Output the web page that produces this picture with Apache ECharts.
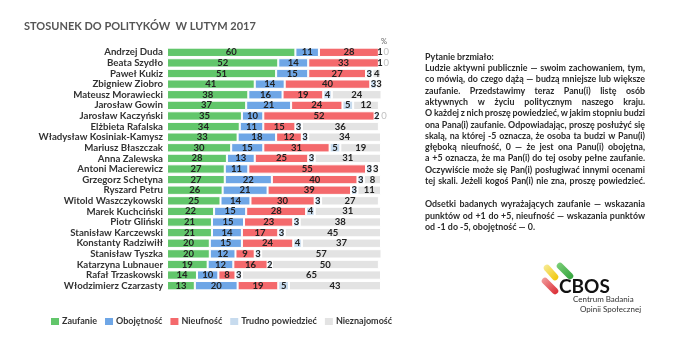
<!DOCTYPE html>
<html><head><meta charset="utf-8">
<script src="https://cdn.jsdelivr.net/npm/echarts@6/dist/echarts.min.js"></script>
<style>html,body{margin:0;padding:0;background:#fff}#c{width:680px;height:340px}</style>
</head><body><div id="c"></div>
<script>
const names = ["Andrzej Duda","Beata Szydło","Paweł Kukiz","Zbigniew Ziobro","Mateusz Morawiecki","Jarosław Gowin","Jarosław Kaczyński","Elżbieta Rafalska","Władysław Kosiniak-Kamysz","Mariusz Błaszczak","Anna Zalewska","Antoni Macierewicz","Grzegorz Schetyna","Ryszard Petru","Witold Waszczykowski","Marek Kuchciński","Piotr Gliński","Stanisław Karczewski","Konstanty Radziwiłł","Stanisław Tyszka","Katarzyna Lubnauer","Rafał Trzaskowski","Włodzimierz Czarzasty"];
const zaufanie      = [60,52,51,41,38,37,35,34,33,30,28,27,27,26,25,22,21,21,20,20,19,14,13];
const obojetnosc    = [11,14,15,14,16,21,10,11,18,15,13,11,22,21,14,15,15,14,15,12,12,10,20];
const nieufnosc     = [28,33,27,40,19,24,52,15,12,31,25,55,40,39,30,28,23,17,24,9,16,8,19];
const trudno        = [1,1,3,3,4,5,2,3,3,5,3,3,3,3,3,4,3,3,4,3,2,3,5];
const nieznajomosc  = [0,0,4,3,24,12,0,36,34,19,31,3,8,11,27,31,38,45,37,57,50,65,43];
const seriesNames = ["Zaufanie","Obojętność","Nieufność","Trudno powiedzieć","Nieznajomość"];
const colors = ["#62c66b","#6ea6e6","#f4696c","#c7dbee","#e3e3e3"];
const titleText = "STOSUNEK DO POLITYKÓW  W LUTYM 2017";
const para1 = ["Ludzie aktywni publicznie — swoim zachowaniem, tym,","co mówią, do czego dążą — budzą mniejsze lub większe","zaufanie. Przedstawimy teraz Panu(i) listę osób","aktywnych w życiu politycznym naszego kraju.","O każdej z nich proszę powiedzieć, w jakim stopniu budzi","ona Pana(i) zaufanie. Odpowiadając, proszę posłużyć się","skalą, na której -5 oznacza, że osoba ta budzi w Panu(i)","głęboką nieufność, 0 — że jest ona Panu(i) obojętna,","a +5 oznacza, że ma Pan(i) do tej osoby pełne zaufanie.","Oczywiście może się Pan(i) posługiwać innymi ocenami","tej skali. Jeżeli kogoś Pan(i) nie zna, proszę powiedzieć."];
const para2 = ["Odsetki badanych wyrażających zaufanie — wskazania","punktów od +1 do +5, nieufność — wskazania punktów","od -1 do -5, obojętność — 0."];

const LATO = "Lato, sans-serif";
const chart = echarts.init(document.getElementById('c'));
const allData = [zaufanie, obojetnosc, nieufnosc, trudno, nieznajomosc];

const series = allData.map((arr, i) => ({
  name: seriesNames[i], type: 'bar', stack: 'a', barCategoryGap: '12%',
  itemStyle: {color: colors[i], borderColor: '#fff', borderWidth: 1},
  label: {show: true, position: 'inside', formatter: '{c}', color: '#222', fontFamily: LATO, fontWeight: 'bold', fontSize: 9.5},
  emphasis: {disabled: true},
  data: arr.map(v => (i === 4 && v === 0) ? {value: v, label: {position: 'right', distance: 2, color: '#c0c0c0', fontWeight: 'normal'}} : v)
}));

const cv = document.createElement('canvas').getContext('2d');
function mw(t, size, w){ cv.font = `${w||'bold'} ${size}px ${LATO}`; return cv.measureText(t).width; }

// Justified text block: uniform size, horizontally condensed, word spacing distributed
const graphics = [];
const TX = 425, TW = 220, FS = 10;
const allLines = para1.concat(para2.slice(0,2));
let sx = 1;
allLines.forEach(l => {
  const words = l.split(' ');
  const nat = words.reduce((s,w)=>s+mw(w,FS),0) + mw(' ',FS)*0.8*(words.length-1);
  sx = Math.min(sx, TW/nat);
});
function addLine(line, y, justify){
  const words = line.split(' ');
  const natural = words.reduce((s,w)=>s+mw(w,FS)*sx,0);
  const sp = justify ? (TW - natural)/(words.length-1) : mw(' ', FS)*sx;
  let x = TX;
  words.forEach(w => {
    graphics.push({type:'text', x: x, y: y, scaleX: sx, style:{text: w, fontSize: FS, fontWeight: 'bold', fontFamily: LATO, fill:'#2a2a2a', textVerticalAlign:'middle', verticalAlign:'middle'}});
    x += mw(w,FS)*sx + sp;
  });
}
const step = 11.3;
addLine("Pytanie brzmiało:", 56.5, false);
para1.forEach((l,i)=> addLine(l, 56.5 + (i+1)*step, true));
para2.forEach((l,i)=> addLine(l, 204 + i*step, i < para2.length-1));

// Logo
function pill(x1,y1,x2,y2,c1,c2){
  graphics.push({type:'line', shape:{x1,y1,x2,y2}, style:{stroke: new echarts.graphic.LinearGradient(0,0,1,1,[{offset:0,color:c1},{offset:1,color:c2}]), lineWidth:6.5, lineCap:'round'}});
}
pill(547,268,555,277,'#f7ec9a','#f0c400');
pill(560,266,570,276,'#7fd07a','#2fa23a');
pill(545,281,555,291,'#f2a0a0','#d9262e');
graphics.push({type:'text', x:559, y:287, style:{text:'CBOS', fontSize:19, fontWeight:'bold', fontFamily:LATO, fill:'#111', textVerticalAlign:'middle', verticalAlign:'middle'}});
graphics.push({type:'text', x:573, y:299, style:{text:'Centrum Badania', fontSize:8, fontFamily:LATO, fill:'#333', textVerticalAlign:'middle', verticalAlign:'middle'}});
graphics.push({type:'text', x:580, y:309, style:{text:'Opinii Społecznej', fontSize:8, fontFamily:LATO, fill:'#333', textVerticalAlign:'middle', verticalAlign:'middle'}});
// % marker
graphics.push({type:'text', x:384, y:42, style:{text:'%', fontSize:7.5, fontFamily:LATO, fill:'#666', textAlign:'center', align:'center', textVerticalAlign:'middle', verticalAlign:'middle'}});

// Legend centred on the reference legend centre
const LFS = 9, LGAP = 6;
const legW = seriesNames.reduce((s,n)=>s + 10 + 2 + mw(n, LFS), 0) + LGAP*(seriesNames.length-1);
const legLeft = Math.round(218 - legW/2);

chart.setOption({
  animation: false,
  title: {text: titleText, left: 19, top: 16, textStyle: {fontFamily: LATO, fontWeight: 'bold', fontSize: 11, color: '#555'}},
  legend: {data: seriesNames, left: legLeft, top: 316, padding: 0, icon: 'rect', itemWidth: 10, itemHeight: 9, itemGap: LGAP, selectedMode: false,
    textStyle: {fontFamily: LATO, fontWeight: 'bold', fontSize: LFS, color: '#333', padding: [0,0,0,-3]}},
  grid: {left: 167, top: 47, width: 214, height: 244, containLabel: false},
  xAxis: {type: 'value', min: 0, max: 100, show: false},
  yAxis: {type: 'category', data: names, inverse: true, axisLine: {show: false}, axisTick: {show: false},
    axisLabel: {interval: 0, fontFamily: LATO, fontWeight: 'bold', fontSize: 9.7, color: '#333', margin: 4}},
  series: series,
  graphic: graphics
});
</script></body></html>
